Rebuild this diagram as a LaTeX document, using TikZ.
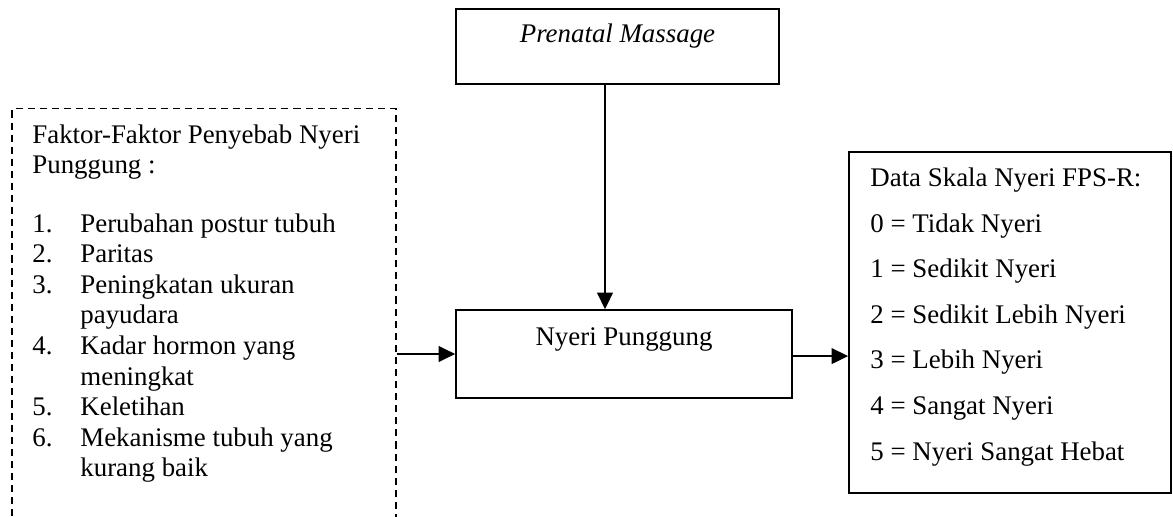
\documentclass[tikz,border=0pt]{standalone}
\usepackage{fontspec}
\setmainfont{Liberation Serif}
\usetikzlibrary{arrows.meta,positioning}
\tikzset{
  box/.style={draw,line width=0.75pt,inner sep=0pt},
  dbox/.style={draw,line width=0.5pt,dash pattern=on 3.4pt off 2.4pt,inner sep=0pt},
  txt/.style={anchor=base west,inner sep=0pt,font=\fontsize{12.9}{15}\selectfont},
  arr/.style={-{Triangle[length=8pt,width=7.5pt]},line width=1.1pt}
}
\begin{document}
\begin{tikzpicture}[x=0.48pt,y=-0.48pt]
\useasboundingbox (0,0) rectangle (1173,517);
\clip (0,0) rectangle (1173,517);
% boxes
\node[box,minimum width=155pt,minimum height=36pt] (prenatal) at (617.5,46.5) {};
\node[box,minimum width=161.3pt,minimum height=42.2pt] (nyeri) at (624,354) {};
\node[box,minimum width=154.6pt,minimum height=163.7pt] (skala) at (1010,322.5) {};
\node[dbox,minimum width=184.3pt,minimum height=216.5pt] (faktor) at (204,334.5) {};
% texts
\node[txt,anchor=base] (prenatal-t) at (617.5,43) {\itshape Prenatal Massage};
\node[txt,anchor=base] (nyeri-t) at (624,345) {Nyeri Punggung};
\node[txt] (faktor-t1) at (32,143) {Faktor-Faktor Penyebab Nyeri};
\node[txt] (faktor-t2) at (32,173) {Punggung :};
\foreach \k/\num/\item in {0/1./Perubahan postur tubuh, 1/2./Paritas,
    2/3./Peningkatan ukuran, 3//payudara, 4/4./Kadar hormon yang,
    5//meningkat, 6/5./Keletihan, 7/6./Mekanisme tubuh yang, 8//kurang baik}{
  \node[txt] (num-\k) at (32,232+30.6*\k) {\num};
  \node[txt] (item-\k) at (80,232+30.6*\k) {\item};
}
\node[txt] (skala-t) at (870,186) {Data Skala Nyeri FPS-R:};
\foreach \i/\lvl in {0/Tidak Nyeri, 1/Sedikit Nyeri, 2/Sedikit Lebih Nyeri,
    3/Lebih Nyeri, 4/Sangat Nyeri, 5/Nyeri Sangat Hebat}{
  \node[txt] (lvl-\i) at (870,232+45.6*\i) {\i{} = \lvl};
}
% arrows
\draw[arr] ([xshift=-6pt]prenatal.south) -- ([xshift=-6pt]prenatal.south |- nyeri.north);
\draw[arr] (faktor.east |- nyeri.west) -- (nyeri.west);
\draw[arr] ([yshift=-1pt]nyeri.east) -- ([yshift=-1pt]skala.west |- nyeri.east);
\end{tikzpicture}
\end{document}
